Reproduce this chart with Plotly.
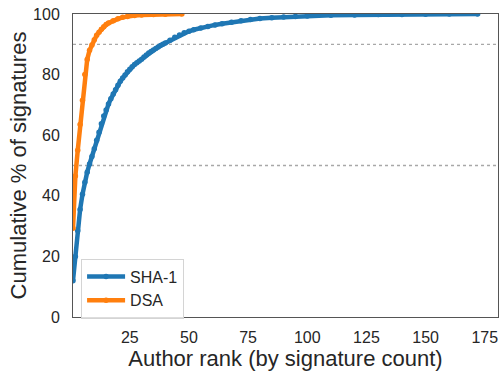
import plotly.graph_objects as go

# SHA-1: author rank -> cumulative % of signatures
sha1_rank = [1, 2, 3, 4, 5, 6, 7, 8, 9, 10, 11, 12, 13, 14, 15, 16, 17, 18, 19, 20,
             21, 22, 23, 24, 25, 26, 27, 28, 29, 30, 31, 32, 33, 34, 35, 36, 37, 38, 39, 40,
             42, 44, 46, 48, 50, 52, 55, 58, 61, 64, 68, 72, 76, 80, 85, 90, 95, 100,
             110, 120, 130, 140, 150, 160, 172]
sha1_pct = [12, 20, 28.5, 35.5, 40.5, 44.5, 47.8, 50.5, 53, 55.5, 58.3, 61, 63.8, 66.3, 68.3, 70.3, 72, 73.6, 75, 76.5,
            77.8, 78.9, 79.9, 80.9, 81.8, 82.6, 83.3, 83.9, 84.5, 85.1, 85.8, 86.5, 87.1, 87.6, 88.1, 88.6, 89.1, 89.6, 90.0, 90.4,
            91.3, 92.3, 93.1, 93.8, 94.3, 94.8, 95.4, 95.9, 96.4, 96.8, 97.3, 97.8, 98.2, 98.5, 98.8, 99.0, 99.2, 99.35,
            99.55, 99.7, 99.8, 99.87, 99.92, 99.96, 100]

# DSA
dsa_rank = [1, 2, 3, 4, 5, 6, 7, 8, 9, 10, 11, 12, 13, 14, 15, 16, 18, 20, 22, 24, 27, 30, 35, 40, 47]
dsa_pct = [29.3, 46.5, 55, 63.5, 71.5, 80, 85, 88, 89.8, 91.5, 93, 94, 95, 95.8, 96.5, 97, 97.8, 98.4, 98.9, 99.2,
           99.5, 99.7, 99.8, 99.9, 100]

x_ticks = [25, 50, 75, 100, 125, 150, 175]
y_ticks = [0, 20, 40, 60, 80, 100]
ref_lines = [50, 90]

TEXT = "#262626"
FONT = "Liberation Sans, Arial, sans-serif"

fig = go.Figure()
fig.add_trace(go.Scatter(x=sha1_rank, y=sha1_pct, name="SHA-1", mode="lines+markers",
                         line=dict(color="#1f77b4", width=4.5),
                         marker=dict(color="#1f77b4", size=5.5)))
fig.add_trace(go.Scatter(x=dsa_rank, y=dsa_pct, name="DSA", mode="lines+markers",
                         line=dict(color="#ff7f0e", width=4.5),
                         marker=dict(color="#ff7f0e", size=5.5)))

for v in ref_lines:
    fig.add_shape(type="line", xref="paper", x0=0, x1=1, yref="y", y0=v, y1=v,
                  line=dict(color="#a8a8a8", width=1.3, dash="dot"), layer="below")

fig.update_layout(
    width=500, height=371,
    margin=dict(l=73, r=1, t=14, b=51),
    paper_bgcolor="white", plot_bgcolor="white",
    font=dict(family=FONT, color=TEXT, size=16),
    showlegend=True,
    legend=dict(x=0.019, y=-0.005, xanchor="left", yanchor="bottom",
                bgcolor="rgba(255,255,255,0.8)", bordercolor="#d4d4d4", borderwidth=1,
                itemwidth=38, font=dict(size=16, color=TEXT)),
)
fig.update_xaxes(range=[1, 180.6], tickvals=x_ticks, showgrid=False, zeroline=False,
                 showline=True, mirror=True, linecolor="#555555", linewidth=1,
                 ticks="", ticklabelstandoff=6, tickfont=dict(size=16, color=TEXT),
                 title=dict(text="Author rank (by signature count)", font=dict(size=22, color=TEXT), standoff=8))
fig.update_yaxes(range=[0, 100], tickvals=y_ticks, showgrid=False, zeroline=False,
                 showline=True, mirror=True, linecolor="#555555", linewidth=1,
                 ticks="", ticklabelstandoff=9, tickfont=dict(size=16, color=TEXT),
                 title=dict(text="Cumulative % of signatures", font=dict(size=22, color=TEXT), standoff=0))

fig.write_html("out.html")
